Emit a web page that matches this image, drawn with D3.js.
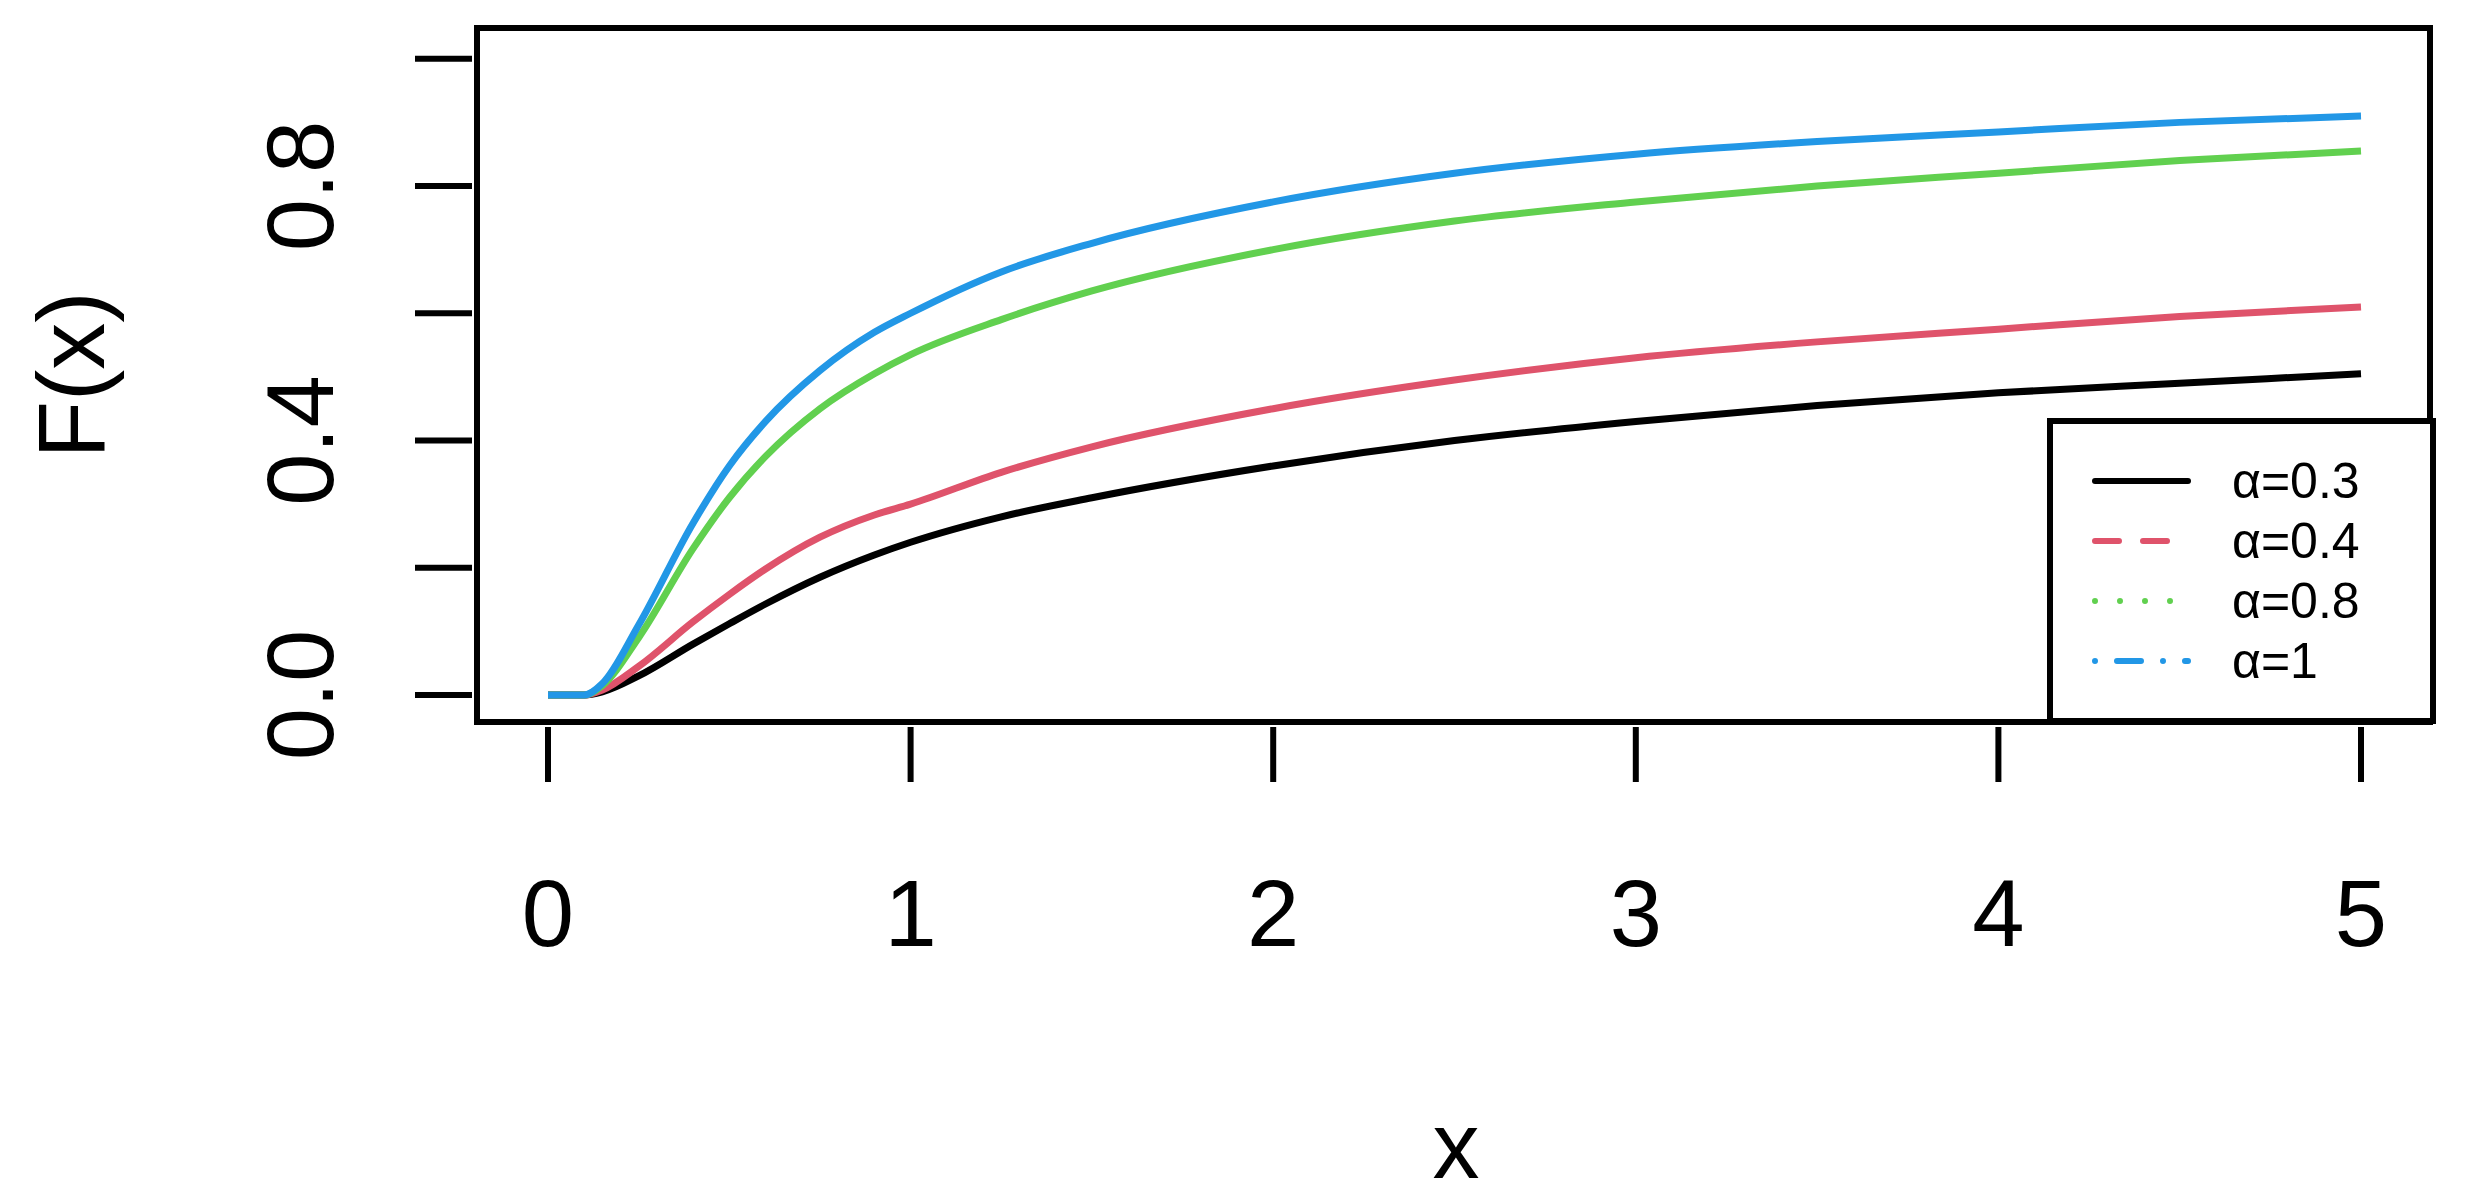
<!DOCTYPE html>
<html><head><meta charset="utf-8">
<script src="https://cdn.jsdelivr.net/npm/d3@7"></script>
<style>body{margin:0;background:#fff}text{font-family:"Liberation Sans",Arial,sans-serif}</style>
</head><body><svg width="2471" height="1196"></svg>
<script>
var xs = [0, 0.1, 0.15, 0.25, 0.4, 0.5, 0.6, 0.75, 0.9, 1, 1.25, 1.5, 2, 2.5, 3, 3.5, 4, 4.5, 5];
var s03 = [0, 0, 0.005, 0.03, 0.08, 0.112, 0.143, 0.185, 0.22, 0.24, 0.28, 0.31, 0.36, 0.40, 0.43, 0.455, 0.475, 0.49, 0.505];
var s04 = [0, 0, 0.008, 0.045, 0.115, 0.158, 0.198, 0.248, 0.283, 0.30, 0.35, 0.39, 0.45, 0.495, 0.53, 0.555, 0.575, 0.595, 0.61];
var s08 = [0, 0, 0.015, 0.09, 0.23, 0.31, 0.375, 0.45, 0.505, 0.535, 0.59, 0.635, 0.70, 0.745, 0.775, 0.80, 0.82, 0.84, 0.855];
var s1  = [0, 0, 0.018, 0.11, 0.27, 0.36, 0.43, 0.51, 0.57, 0.60, 0.665, 0.71, 0.775, 0.82, 0.85, 0.87, 0.885, 0.90, 0.91];
var series = [
  {name: "\u03b1=0.3", vals: s03, color: "#000000", dash: null},
  {name: "\u03b1=0.4", vals: s04, color: "#DF536B", dash: "24,24"},
  {name: "\u03b1=0.8", vals: s08, color: "#61D04F", dash: "0,25"},
  {name: "\u03b1=1",   vals: s1,  color: "#2297E6", dash: "0,22,24,22"}
];
var xTicks = [0, 1, 2, 3, 4, 5];
var yTicks = [0, 0.2, 0.4, 0.6, 0.8, 1];
var yLabels = [0, 0.4, 0.8];

var svg = d3.select("svg");
var x = d3.scaleLinear().domain([0, 5]).range([548, 2361]);
var y = d3.scaleLinear().domain([0, 0.8]).range([695, 186]);
var box = {l: 477, r: 2430, t: 28, b: 722};

var line = d3.line().x(function(d){ return x(d[0]); }).y(function(d){ return y(d[1]); }).curve(d3.curveMonotoneX);
series.forEach(function(s){
  svg.append("path").datum(xs.map(function(v, i){ return [v, s.vals[i]]; }))
    .attr("d", line).attr("fill", "none").attr("stroke", s.color).attr("stroke-width", 7);
});

svg.append("rect").attr("x", box.l).attr("y", box.t).attr("width", box.r - box.l).attr("height", box.b - box.t)
  .attr("fill", "none").attr("stroke", "#000").attr("stroke-width", 6);

xTicks.forEach(function(t){
  svg.append("line").attr("x1", x(t)).attr("x2", x(t)).attr("y1", 727).attr("y2", 782).attr("stroke", "#000").attr("stroke-width", 6);
  svg.append("text").attr("x", x(t)).attr("y", 946).attr("text-anchor", "middle").attr("font-size", 94).text(t);
});
yTicks.forEach(function(t){
  svg.append("line").attr("x1", 415).attr("x2", 472).attr("y1", y(t)).attr("y2", y(t)).attr("stroke", "#000").attr("stroke-width", 6);
});
yLabels.forEach(function(t){
  svg.append("text").attr("transform", "translate(333," + y(t) + ") rotate(-90)")
    .attr("text-anchor", "middle").attr("font-size", 94).text(t.toFixed(1));
});
svg.append("text").attr("x", 1456).attr("y", 1178).attr("text-anchor", "middle").attr("font-size", 94).text("x");
svg.append("text").attr("transform", "translate(104," + 375 + ") rotate(-90)")
  .attr("text-anchor", "middle").attr("font-size", 94).text("F(x)");

// legend
svg.append("rect").attr("x", 2050).attr("y", 421).attr("width", 383).attr("height", 300)
  .attr("fill", "#fff").attr("stroke", "#000").attr("stroke-width", 6);
series.forEach(function(s, i){
  var yy = 481 + i * 60;
  svg.append("line").attr("x1", 2095).attr("x2", 2188).attr("y1", yy).attr("y2", yy)
    .attr("stroke", s.color).attr("stroke-width", 6).attr("stroke-linecap", "round")
    .attr("stroke-dasharray", s.dash);
  svg.append("text").attr("x", 2232).attr("y", yy + 17).attr("font-size", 50).text(s.name);
});
</script></body></html>
